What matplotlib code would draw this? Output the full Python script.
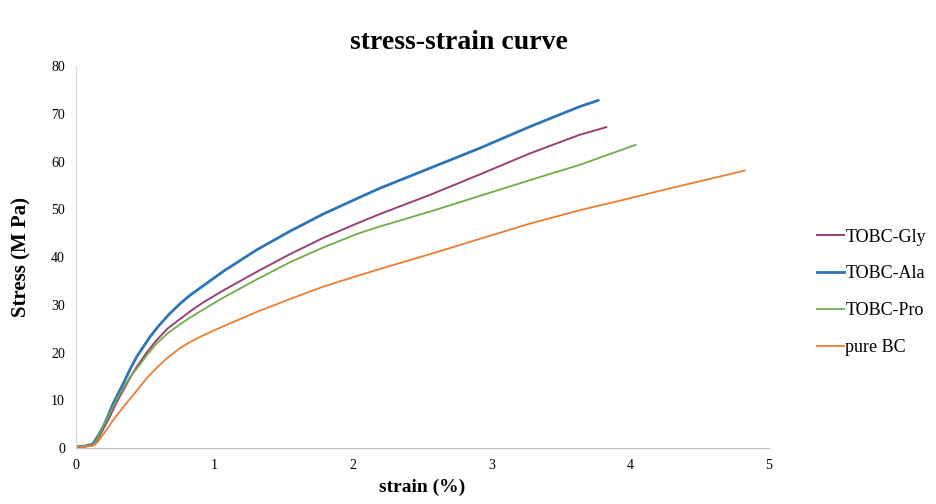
import matplotlib.pyplot as plt

# strain (%) and stress (MPa)
gly_strain = [0, 0.06, 0.12, 0.14, 0.19, 0.245, 0.29, 0.341, 0.39, 0.438, 0.51, 0.582, 0.66, 0.75,
              0.823, 0.918, 1.063, 1.304, 1.544, 1.784, 2.025, 2.193, 2.554, 2.915, 3.276, 3.636, 3.828]
gly_stress = [0.3, 0.3, 0.6, 1.0, 3.6, 6.6, 9.4, 12.1, 14.7, 17.0, 20.0, 22.6, 25.0, 27.0,
              28.6, 30.5, 33.0, 36.9, 40.6, 44.0, 47.0, 49.0, 53.0, 57.3, 61.7, 65.6, 67.2]

ala_strain = [0, 0.06, 0.11, 0.125, 0.16, 0.197, 0.235, 0.269, 0.341, 0.39, 0.438, 0.534, 0.60, 0.678,
              0.75, 0.823, 1.063, 1.304, 1.544, 1.784, 2.025, 2.193, 2.554, 2.915, 3.276, 3.636, 3.769]
ala_stress = [0.3, 0.4, 0.7, 1.0, 2.6, 4.5, 7.0, 9.4, 13.5, 16.5, 19.1, 23.3, 25.7, 28.2,
              30.2, 32.0, 37.0, 41.5, 45.4, 49.0, 52.2, 54.4, 58.6, 62.8, 67.3, 71.5, 72.8]

pro_strain = [0, 0.06, 0.12, 0.14, 0.19, 0.245, 0.29, 0.341, 0.39, 0.438, 0.51, 0.582, 0.66, 0.75,
              0.823, 0.918, 1.063, 1.304, 1.544, 1.784, 2.025, 2.193, 2.554, 2.915, 3.276, 3.636, 3.925, 4.04]
pro_stress = [0.3, 0.3, 0.6, 1.2, 4.2, 7.3, 10.0, 12.6, 14.9, 16.6, 19.4, 21.9, 24.0, 25.9,
              27.3, 29.0, 31.5, 35.3, 38.9, 42.0, 44.8, 46.4, 49.5, 52.8, 56.1, 59.3, 62.3, 63.5]

bc_strain = [0, 0.06, 0.12, 0.149, 0.2, 0.269, 0.35, 0.438, 0.51, 0.582, 0.66, 0.75, 0.823, 0.918,
             1.063, 1.304, 1.544, 1.784, 2.025, 2.193, 2.554, 2.915, 3.276, 3.636, 3.925, 4.261, 4.827]
bc_stress = [0.3, 0.3, 0.5, 1.0, 3.0, 5.9, 8.9, 12.0, 14.6, 16.8, 18.9, 20.9, 22.2, 23.6,
             25.5, 28.5, 31.2, 33.8, 36.0, 37.5, 40.6, 43.8, 47.0, 49.8, 51.8, 54.2, 58.1]

x_ticks = [0, 1, 2, 3, 4, 5]
y_ticks = [0, 10, 20, 30, 40, 50, 60, 70, 80]

serif = ['Liberation Serif', 'DejaVu Serif']

fig = plt.figure(figsize=(9.36, 5.04), dpi=100)
ax = fig.add_axes([0.0812, 0.111, 0.740, 0.758])

ax.plot(gly_strain, gly_stress, color='#9c3f75', lw=1.4, label='TOBC-Gly')
ax.plot(ala_strain, ala_stress, color='#2e75b6', lw=2.0, label='TOBC-Ala')
ax.plot(pro_strain, pro_stress, color='#70ad47', lw=1.3, label='TOBC-Pro')
ax.plot(bc_strain, bc_stress, color='#ed7d31', lw=1.3, label='pure BC')

ax.set_xlim(0, 5)
ax.set_ylim(0, 80)
ax.set_xticks(x_ticks)
ax.set_yticks(y_ticks)
ax.tick_params(length=0, labelsize=10, pad=8)
for lab in ax.get_xticklabels() + ax.get_yticklabels():
    lab.set_family(serif)

for s in ['top', 'right']:
    ax.spines[s].set_visible(False)
ax.spines['left'].set_color('#d9d9d9')
ax.spines['bottom'].set_color('#bfbfbf')

ax.set_xlabel('strain (%)', family=serif, fontsize=14, fontweight='bold', labelpad=5)
ax.set_ylabel('Stress (M Pa)', family=serif, fontsize=15, fontweight='bold', labelpad=14)
fig.text(0.49, 0.915, 'stress-strain curve', family=serif, fontsize=20,
         fontweight='bold', ha='center', va='center')

fig.legend(loc='center left', bbox_to_anchor=(0.855, 0.42), frameon=False,
           prop={'family': serif, 'size': 13}, handlelength=1.5,
           handletextpad=0.1, labelspacing=1.1)

fig.savefig('out.png', dpi=100)
